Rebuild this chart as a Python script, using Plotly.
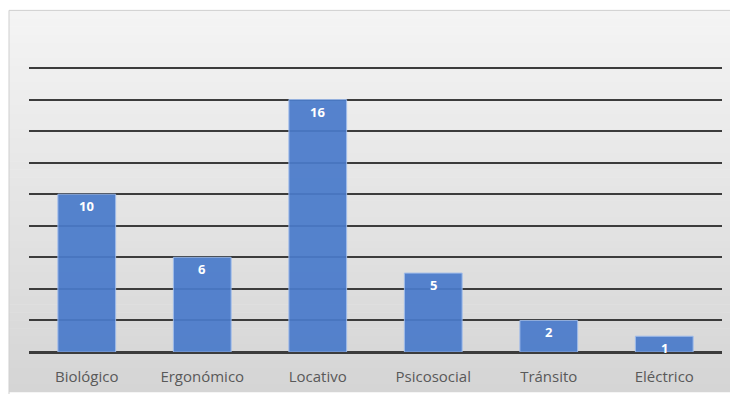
import plotly.graph_objects as go

# Data
categories = ["Biológico", "Ergonómico", "Locativo", "Psicosocial", "Tránsito", "Eléctrico"]
values = [10, 6, 16, 5, 2, 1]
y_max_grid = 18

W, H = 730, 394
ML, MR, MT, MB = 29, 8, 64, 40
plot_w = W - ML - MR
plot_h = H - MT - MB
# Stretch the range a little so the top gridline (18) sits inside the plot and lands at y=68
y_top = y_max_grid * plot_h / (H - MB - 68)


def px_x(px):
    return (px - ML) / plot_w


def px_y(py):
    return (H - MB - py) / plot_h


fig = go.Figure()
fig.add_trace(go.Bar(
    x=categories,
    y=values,
    marker=dict(color="#4a7bcb", line=dict(color="#9dbbec", width=1)),
    opacity=0.93,
    hoverinfo="x+y",
))

# Value labels near the top of each bar
annotations = []
for c, v in zip(categories, values):
    annotations.append(dict(
        x=c, y=v, xref="x", yref="y", text=f"<b>{v}</b>", showarrow=False,
        yanchor="top", yshift=-1,
        font=dict(family="Open Sans", size=13, color="white"),
    ))

# Chart-area background: vertical grey gradient inside a framed box
shapes = []
top_px, bot_px, left_px, right_px = 10, H, 9, W
n = 48
c0 = (244, 244, 244)
c1 = (213, 213, 213)
for i in range(n):
    t = i / (n - 1)
    col = tuple(round(a + (b - a) * t) for a, b in zip(c0, c1))
    y0 = top_px + (bot_px - top_px) * i / n
    y1 = top_px + (bot_px - top_px) * (i + 1) / n
    shapes.append(dict(
        type="rect", xref="paper", yref="paper", layer="below",
        x0=px_x(left_px), x1=px_x(right_px), y0=px_y(y1 + 0.5), y1=px_y(y0),
        fillcolor="rgb(%d,%d,%d)" % col, line=dict(width=0),
    ))
shapes.append(dict(
    type="rect", xref="paper", yref="paper", layer="below",
    x0=px_x(left_px), x1=px_x(right_px + 5), y0=px_y(bot_px + 5), y1=px_y(top_px),
    fillcolor="rgba(0,0,0,0)", line=dict(color="#cfcfcf", width=1),
))

fig.update_layout(
    width=W, height=H,
    margin=dict(l=ML, r=MR, t=MT, b=MB),
    paper_bgcolor="white",
    plot_bgcolor="rgba(0,0,0,0)",
    bargap=0.5,
    showlegend=False,
    shapes=shapes,
    annotations=annotations,
    xaxis=dict(
        showgrid=False, showline=False,
        ticks="outside", ticklen=11, tickcolor="rgba(0,0,0,0)",
        tickfont=dict(family="Open Sans", size=15, color="#595959"),
    ),
    yaxis=dict(
        range=[0, y_top], tickvals=list(range(0, y_max_grid + 1, 2)), showticklabels=False,
        showgrid=True, gridcolor="#3c3c3c", gridwidth=1.6,
        zeroline=True, zerolinecolor="#3c3c3c", zerolinewidth=2.6,
        showline=False,
    ),
)

fig.write_html("out.html")
